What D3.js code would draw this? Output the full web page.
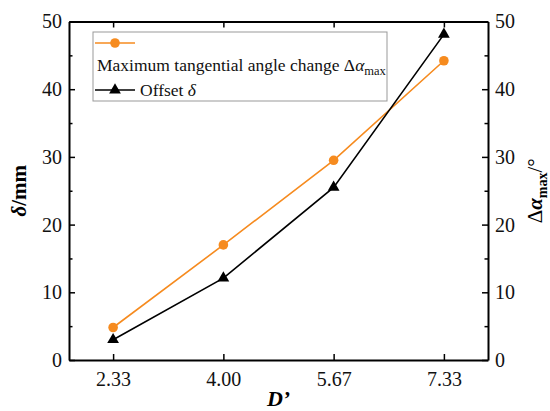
<!DOCTYPE html>
<html>
<head>
<meta charset="utf-8">
<script src="https://cdn.jsdelivr.net/npm/d3@7"></script>
<style>
  body { margin: 0; background: #fff; }
  text { font-family: "Liberation Serif", "Times New Roman", serif; }
</style>
</head>
<body>
<svg width="550" height="411"></svg>
<script>
(function (d3) {
    // data
    const categories = ['2.33', '4.00', '5.67', '7.33'];
    const angleChange = [4.8, 17.0, 29.5, 44.2];   // Δα_max, right axis (°)
    const offset = [3.0, 12.1, 25.5, 48.1];        // δ, left axis (mm)
    const yTicks = [0, 10, 20, 30, 40, 50];
    const yMinorTicks = [5, 15, 25, 35, 45];

    const svg = d3.select('svg');
    const width = +svg.attr('width');
    const height = +svg.attr('height');

    const margin = { left: 69, right: width - 488, top: 21.5, bottom: height - 360 };
    const innerW = width - margin.left - margin.right;
    const innerH = height - margin.top - margin.bottom;

    const orange = '#F68B1F';

    svg.append('rect').attr('width', width).attr('height', height).attr('fill', '#fff');

    const g = svg.append('g')
        .attr('transform', `translate(${margin.left}, ${margin.top})`);

    const x = d3.scalePoint()
        .domain(categories)
        .range([0, innerW])
        .padding(0.4);

    const yLeft = d3.scaleLinear().domain([0, 50]).range([innerH, 0]);
    const yRight = d3.scaleLinear().domain([0, 50]).range([innerH, 0]);

    const styleAxis = sel => {
        sel.select('.domain').attr('stroke-width', 2);
        sel.selectAll('.tick line').attr('stroke-width', 1.5);
        sel.selectAll('.tick text')
            .attr('font-size', 20)
            .attr('fill', '#111')
            .attr('font-family', '"Liberation Serif", "Times New Roman", serif');
    };

    // minor ticks first so main axis lines sit on top
    g.append('g')
        .call(d3.axisLeft(yLeft).tickValues(yMinorTicks).tickSize(-3.5).tickFormat(''))
        .call(sel => { sel.select('.domain').remove(); sel.selectAll('line').attr('stroke-width', 1.5); });
    g.append('g')
        .attr('transform', `translate(${innerW}, 0)`)
        .call(d3.axisRight(yRight).tickValues(yMinorTicks).tickSize(-3.5).tickFormat(''))
        .call(sel => { sel.select('.domain').remove(); sel.selectAll('line').attr('stroke-width', 1.5); });

    g.append('g')
        .call(d3.axisLeft(yLeft).tickValues(yTicks).tickSizeInner(-6).tickSizeOuter(0).tickPadding(7))
        .call(styleAxis);

    g.append('g')
        .attr('transform', `translate(${innerW}, 0)`)
        .call(d3.axisRight(yRight).tickValues(yTicks).tickSizeInner(-6).tickSizeOuter(0).tickPadding(7))
        .call(styleAxis);

    g.append('g')
        .attr('transform', `translate(0, ${innerH})`)
        .call(d3.axisBottom(x).tickSizeInner(-6).tickSizeOuter(0).tickPadding(12))
        .call(styleAxis);

    g.append('g')
        .call(d3.axisTop(x).tickSizeInner(-6).tickSizeOuter(0).tickFormat(''))
        .call(styleAxis);

    // series
    const lineAngle = d3.line()
        .x((d, i) => x(categories[i]))
        .y(d => yRight(d));
    const lineOffset = d3.line()
        .x((d, i) => x(categories[i]))
        .y(d => yLeft(d));

    g.append('path')
        .datum(angleChange)
        .attr('d', lineAngle)
        .attr('fill', 'none')
        .attr('stroke', orange)
        .attr('stroke-width', 1.6);

    g.append('path')
        .datum(offset)
        .attr('d', lineOffset)
        .attr('fill', 'none')
        .attr('stroke', '#000')
        .attr('stroke-width', 1.6);

    g.selectAll('.dot')
        .data(angleChange)
        .join('circle')
        .attr('class', 'dot')
        .attr('cx', (d, i) => x(categories[i]))
        .attr('cy', d => yRight(d))
        .attr('r', 4.8)
        .attr('fill', orange);

    const tri = d3.symbol().type(d3.symbolTriangle).size(60);
    g.selectAll('.tri')
        .data(offset)
        .join('path')
        .attr('class', 'tri')
        .attr('d', tri)
        .attr('transform', (d, i) => `translate(${x(categories[i])}, ${yLeft(d)})`)
        .attr('fill', '#000');

    // axis titles
    svg.append('text')
        .attr('x', margin.left + innerW / 2)
        .attr('y', 406)
        .attr('text-anchor', 'middle')
        .attr('font-size', 22)
        .attr('font-weight', 'bold')
        .attr('font-style', 'italic')
        .text('D’');

    const leftTitle = svg.append('text')
        .attr('transform', `translate(26, ${margin.top + innerH / 2}) rotate(-90)`)
        .attr('text-anchor', 'middle')
        .attr('font-size', 21)
        .attr('font-weight', 'bold');
    leftTitle.append('tspan').attr('font-style', 'italic').text('δ');
    leftTitle.append('tspan').text('/mm');

    const rightTitle = svg.append('text')
        .attr('transform', `translate(542, ${margin.top + innerH / 2}) rotate(-90)`)
        .attr('text-anchor', 'middle')
        .attr('font-size', 21)
        .attr('font-weight', 'bold');
    rightTitle.append('tspan').attr('font-weight', 'normal').text('Δ');
    rightTitle.append('tspan').attr('font-style', 'italic').text('α');
    rightTitle.append('tspan').attr('font-size', 14).attr('dy', 5).text('max');
    rightTitle.append('tspan').attr('font-weight', 'normal').attr('dy', -5).text('/°');

    // legend
    const legend = svg.append('g').attr('transform', 'translate(93, 32)');
    legend.append('rect')
        .attr('width', 294)
        .attr('height', 69)
        .attr('fill', '#fff')
        .attr('stroke', '#999')
        .attr('stroke-width', 1);

    legend.append('line')
        .attr('x1', 2).attr('x2', 42).attr('y1', 11).attr('y2', 11)
        .attr('stroke', orange).attr('stroke-width', 1.6);
    legend.append('circle')
        .attr('cx', 22).attr('cy', 11).attr('r', 4.8).attr('fill', orange);

    const lt = legend.append('text')
        .attr('x', 4).attr('y', 39)
        .attr('font-size', 17.5)
        .attr('fill', '#111');
    lt.append('tspan').text('Maximum tangential angle change Δ');
    lt.append('tspan').attr('font-style', 'italic').text('α');
    lt.append('tspan').attr('font-size', 12.5).attr('dy', 4).text('max');

    legend.append('line')
        .attr('x1', 2).attr('x2', 42).attr('y1', 58).attr('y2', 58)
        .attr('stroke', '#000').attr('stroke-width', 1.6);
    legend.append('path')
        .attr('d', tri)
        .attr('transform', 'translate(22, 58)')
        .attr('fill', '#000');
    const ot = legend.append('text')
        .attr('x', 47).attr('y', 64)
        .attr('font-size', 17.5)
        .attr('fill', '#111');
    ot.append('tspan').text('Offset ');
    ot.append('tspan').attr('font-style', 'italic').text('δ');
}(d3));
</script>
</body>
</html>
